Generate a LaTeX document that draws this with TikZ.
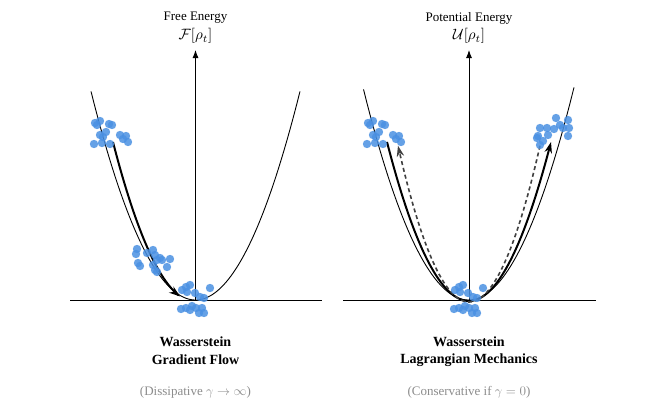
\documentclass[tikz,border=0pt]{standalone}
\usepackage{fontspec}
\setmainfont{Liberation Serif}
\usetikzlibrary{arrows.meta}
\definecolor{dotblue}{RGB}{74,144,226}
\begin{document}
\begin{tikzpicture}[x=1pt,y=-1pt,
  axisline/.style={line width=0.9pt, draw=black},
  axisarrow/.style={line width=0.9pt, draw=black, -{Latex[length=8pt,width=6pt]}},
  potential/.style={line width=0.9pt, draw=black},
  flow/.style={line width=2pt, draw=black, -{Stealth[length=11pt,width=7.5pt]}},
  dashflow/.style={line width=1.6pt, draw=black!75, dash pattern=on 4pt off 3pt, -{Stealth[length=11pt,width=7.5pt]}},
  dot/.style={fill=dotblue, fill opacity=0.85},
  ttl/.style={font=\fontsize{10}{12}\selectfont, inner sep=0pt, scale=1.3},
  mttl/.style={font=\fontsize{10}{12}\selectfont, inner sep=0pt, scale=1.5},
  bigttl/.style={font=\fontsize{14}{16}\selectfont\bfseries, inner sep=0pt},
  note/.style={font=\fontsize{10}{12}\selectfont, text=black!45, inner sep=0pt, scale=1.3}]
\useasboundingbox (0,0) rectangle (664,407);

% ---------- left panel ----------
\coordinate (l0) at (195.5,300);
\coordinate (lL) at (70,300);
\coordinate (lR) at (322,300);
\coordinate (lT) at (195.5,50);
\draw[axisline] (lL) -- (lR);
\draw[axisarrow] (l0) -- (lT);
\node[ttl] (lt1) at (195.5,18) {Free Energy};
\node[mttl] (lt2) at (195.5,36) {$\mathcal{F}[\rho_t]$};
\draw[potential] plot[domain=91:300, samples=80] (\x, {300-0.0191*(\x-195.5)^2});
\draw[flow] plot[domain=113:180, samples=50] (\x, {302-0.0235*(\x-195.5)^2});
\foreach \p in {(95,123),(100,121),(97,125),(109,124),(112,125),(106,132),(100,135),(103,137),(94,144),(102,143),(110,144),(120,135),(126,136),(123,139),(128,142),
  (137,249),(136,254),(138,263),(140,266),(147,253),(153,250),(155,255),(160,258),(157,260),(162,260),(170,259),(167,267),(155,270),(157,272),(153,265),
  (182,290),(186,287),(190,285),(187,292),(195,293),(200,297),(204,298),(210,288),(181,309),(186,308),(192,306),(196,308),(199,313),(202,308),(204,313),(190,310)}
  \fill[dot] \p circle[radius=4.2pt];
\node[bigttl] (lb1) at (195.5,342) {Wasserstein};
\node[bigttl] (lb2) at (195.5,360) {Gradient Flow};
\node[note] (ln) at (195.5,392) {(Dissipative $\gamma\to\infty$)};

% ---------- right panel ----------
\coordinate (r0) at (469,300);
\coordinate (rL) at (343,300);
\coordinate (rR) at (596,300);
\coordinate (rT) at (469,50);
\draw[axisline] (rL) -- (rR);
\draw[axisarrow] (r0) -- (rT);
\node[ttl] (rt1) at (469,18) {Potential Energy};
\node[mttl] (rt2) at (469,36) {$\mathcal{U}[\rho_t]$};
\draw[potential] plot[domain=363.5:574, samples=100] (\x, {300-0.0191*(\x-468.5)^2});
\draw[flow] plot[domain=387:551, samples=100] (\x, {301-0.02365*(\x-469)^2});
\draw[dashflow] plot[domain=540:398, samples=100] (\x, {302-0.031*(\x-469)^2});
\foreach \p in {(368,123),(373,121),(370,125),(382,124),(385,125),(379,132),(373,135),(376,137),(367,144),(375,143),(383,144),(393,135),(399,136),(396,139),(401,142),
  (540,128),(547,128),(556,118),(560,125),(568,120),(569,128),(568,136),(563,128),(554,129),(548,135),(537,138),(543,141),(540,145),(538,136),
  (455,290),(459,287),(463,285),(460,292),(468,293),(473,297),(477,298),(483,288),(454,309),(459,308),(465,306),(469,308),(472,313),(475,308),(477,313),(463,310)}
  \fill[dot] \p circle[radius=4.2pt];
\node[bigttl] (rb1) at (469,342) {Wasserstein};
\node[bigttl] (rb2) at (469,360) {Lagrangian Mechanics};
\node[note] (rn) at (469,392) {(Conservative if $\gamma=0$)};
\end{tikzpicture}
\end{document}
